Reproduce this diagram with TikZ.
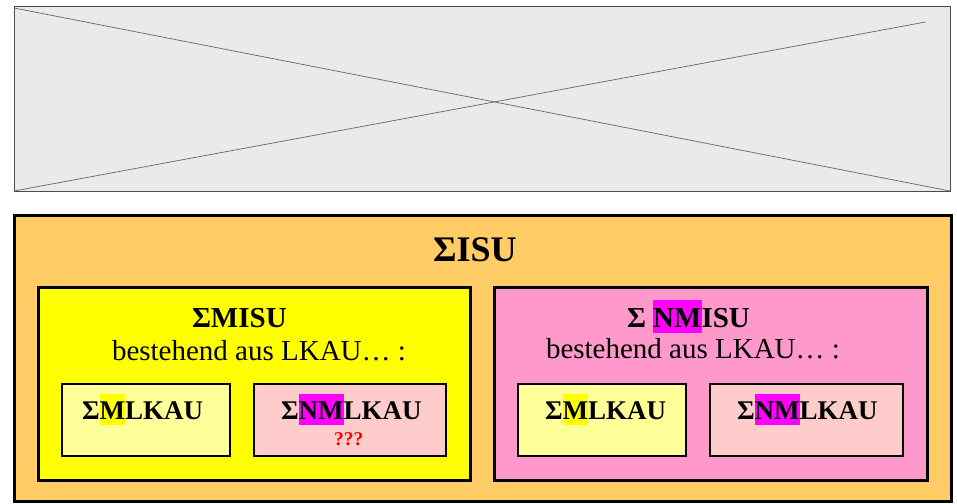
\documentclass[tikz,border=0pt]{standalone}
\usepackage{fontspec}
\setmainfont{Liberation Serif}
\definecolor{phgray}{HTML}{EAEAEA}
\definecolor{orangebg}{HTML}{FFCC66}
\definecolor{yellowbg}{HTML}{FFFF00}
\definecolor{pinkbg}{HTML}{FF99CC}
\definecolor{lightyellow}{HTML}{FFFF99}
\definecolor{lightpink}{HTML}{FFCCCC}
\definecolor{hlmag}{HTML}{FF00FF}
\newcommand{\hlbox}[2]{{\setlength{\fboxsep}{0pt}\colorbox{#1}{\rule[-0.21em]{0pt}{1.15em}#2}}}
\begin{document}
\begin{tikzpicture}[x=1pt,y=-1pt,
  box/.style={rectangle, anchor=north west, inner sep=0pt, outer sep=0pt},
  bigbox/.style={box, draw=black, line width=3pt},
  smallbox/.style={box, draw=black, line width=1.3pt},
  txt/.style={anchor=base west, inner sep=0pt, outer sep=0pt},
  head/.style={txt, font=\fontsize{29}{34}\selectfont\bfseries},
  sub/.style={txt, font=\fontsize{29}{34}\selectfont},
  small/.style={txt, font=\fontsize{27}{32}\selectfont\bfseries}]
\useasboundingbox (0,0) rectangle (957,503);
% placeholder
\node[box, fill=phgray, draw=black!70, line width=0.8pt, minimum width=936pt, minimum height=185pt] (ph) at (14,6) {};
\coordinate (l1a) at (14,8);
\coordinate (l1b) at (950,191);
\coordinate (l2a) at (14,191);
\coordinate (l2b) at (925.5,22);
\draw[black!60, line width=0.7pt] (l1a) -- (l1b);
\draw[black!60, line width=0.7pt] (l2a) -- (l2b);
% outer
\node[bigbox, fill=orangebg, minimum width=937pt, minimum height=286pt] (outer) at (14,215) {};
\node[txt, font=\fontsize{36}{42}\selectfont\bfseries] (isu) at (433,261) {ΣISU};
% yellow
\node[bigbox, fill=yellowbg, minimum width=432pt, minimum height=193pt] (ybox) at (38,287) {};
\node[head] (ymisu) at (192,327) {ΣMISU};
\node[sub] (ybest) at (112,360) {bestehend aus LKAU… :};
\node[smallbox, fill=lightyellow, minimum width=168pt, minimum height=72pt] (y1) at (62,384) {};
\node[smallbox, fill=lightpink, minimum width=192pt, minimum height=72pt] (y2) at (254,384) {};
\node[small] (y1t) at (82,419) {Σ\hlbox{yellowbg}{M}LKAU};
\node[small] (y2t) at (281,419) {Σ\hlbox{hlmag}{NM}LKAU};
\node[txt, font=\fontsize{19.5}{22}\selectfont\bfseries, text=red] (q) at (334,445) {???};
% pink
\node[bigbox, fill=pinkbg, minimum width=433pt, minimum height=193pt] (pbox) at (494,287) {};
\node[head] (pnmisu) at (627,327) {Σ \hlbox{hlmag}{NM}ISU};
\node[sub] (pbest) at (546,358) {bestehend aus LKAU… :};
\node[smallbox, fill=lightyellow, minimum width=168pt, minimum height=72pt] (p1) at (518,384) {};
\node[smallbox, fill=lightpink, minimum width=193pt, minimum height=72pt] (p2) at (710,384) {};
\node[small] (p1t) at (545,419) {Σ\hlbox{yellowbg}{M}LKAU};
\node[small] (p2t) at (737,419) {Σ\hlbox{hlmag}{NM}LKAU};
\end{tikzpicture}
\end{document}
